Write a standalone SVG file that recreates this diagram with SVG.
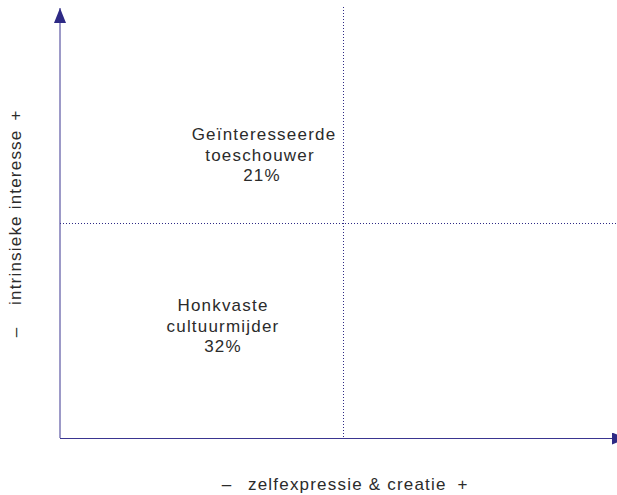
<svg xmlns="http://www.w3.org/2000/svg" width="617" height="495" viewBox="0 0 617 495">
<style>
.axis{stroke:#3a3590;stroke-width:1;fill:none}
.dot{stroke:#2e2a85;stroke-width:1;stroke-dasharray:1 2;fill:none}
.t{font-family:"Liberation Sans",Arial,sans-serif;font-size:17px;letter-spacing:1.2px;fill:#2b2b2b}
.c{text-anchor:middle}
</style>
<defs>
<marker id="ah" viewBox="0 0 15 12" refX="15" refY="6" markerWidth="15" markerHeight="12" markerUnits="userSpaceOnUse" orient="auto">
<path d="M0,0 L15,6 L0,12 Z" fill="#2e2a85"/>
</marker>
</defs>
<g id="connectors">
<line class="dot" x1="343.5" y1="7" x2="343.5" y2="438"/>
<line class="dot" x1="60" y1="223.5" x2="616" y2="223.5"/>
<line class="axis" x1="60" y1="438" x2="60" y2="8" marker-end="url(#ah)"/>
<line class="axis" x1="60" y1="438.5" x2="627" y2="438.5" marker-end="url(#ah)"/>
</g>
<g id="geinteresseerde">
<text class="t c" x="264" y="140">Geïnteresseerde</text>
<text class="t c" x="260" y="161">toeschouwer</text>
<text class="t c" x="262" y="181">21%</text>
</g>
<g id="honkvaste">
<text class="t c" x="223" y="311">Honkvaste</text>
<text class="t c" x="223" y="332">cultuurmijder</text>
<text class="t c" x="223" y="352">32%</text>
</g>
<g id="xlabel">
<text class="t c" x="227" y="490">–</text>
<text class="t" x="248" y="490">zelfexpressie &amp; creatie</text>
<text class="t c" x="463" y="490">+</text>
</g>
<g id="ylabel">
<text class="t c" transform="translate(21,332) rotate(-90)">–</text>
<text class="t" transform="translate(21,305) rotate(-90)">intrinsieke interesse</text>
<text class="t c" transform="translate(21,115) rotate(-90)">+</text>
</g>
</svg>
